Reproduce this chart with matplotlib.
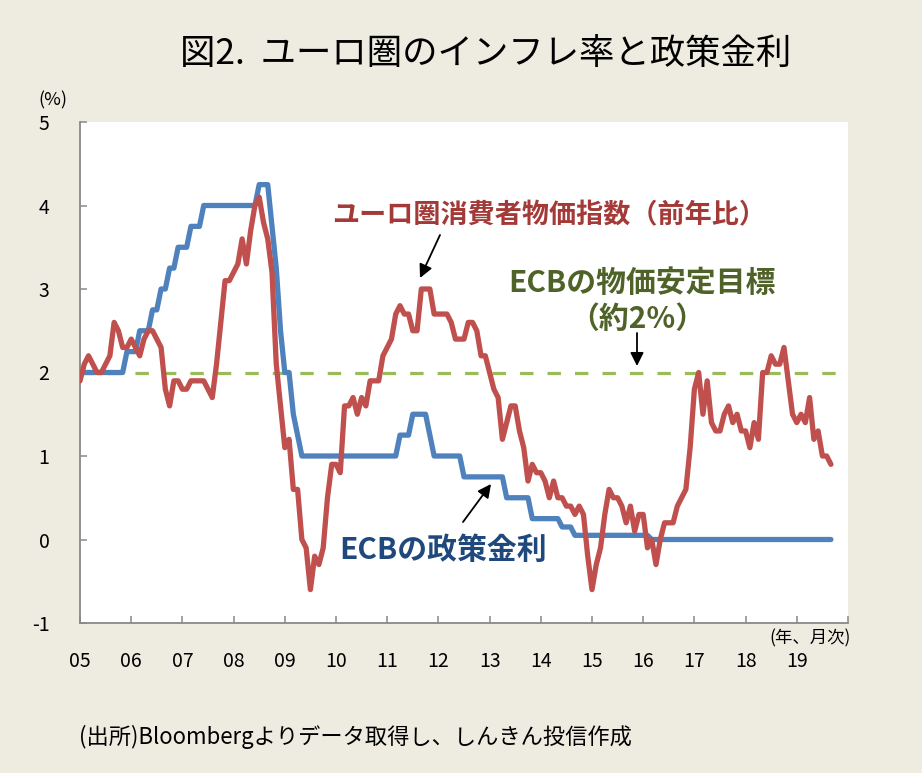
import matplotlib
matplotlib.use("Agg")
import matplotlib.pyplot as plt
import numpy as np

plt.rcParams['font.family'] = ['Noto Sans CJK JP', 'DejaVu Sans']
plt.rcParams['axes.unicode_minus'] = False

# ユーロ圏HICP 前年比(%)  2005年1月～2019年9月
cpi = [
    1.9, 2.1, 2.2, 2.1, 2.0, 2.0, 2.1, 2.2, 2.6, 2.5, 2.3, 2.3,   # 2005
    2.4, 2.3, 2.2, 2.4, 2.5, 2.5, 2.4, 2.3, 1.8, 1.6, 1.9, 1.9,   # 2006
    1.8, 1.8, 1.9, 1.9, 1.9, 1.9, 1.8, 1.7, 2.1, 2.6, 3.1, 3.1,   # 2007
    3.2, 3.3, 3.6, 3.3, 3.7, 4.0, 4.1, 3.8, 3.6, 3.2, 2.1, 1.6,   # 2008
    1.1, 1.2, 0.6, 0.6, 0.0, -0.1, -0.6, -0.2, -0.3, -0.1, 0.5, 0.9,  # 2009
    0.9, 0.8, 1.6, 1.6, 1.7, 1.5, 1.7, 1.6, 1.9, 1.9, 1.9, 2.2,   # 2010
    2.3, 2.4, 2.7, 2.8, 2.7, 2.7, 2.5, 2.5, 3.0, 3.0, 3.0, 2.7,   # 2011
    2.7, 2.7, 2.7, 2.6, 2.4, 2.4, 2.4, 2.6, 2.6, 2.5, 2.2, 2.2,   # 2012
    2.0, 1.8, 1.7, 1.2, 1.4, 1.6, 1.6, 1.3, 1.1, 0.7, 0.9, 0.8,   # 2013
    0.8, 0.7, 0.5, 0.7, 0.5, 0.5, 0.4, 0.4, 0.3, 0.4, 0.3, -0.2,  # 2014
    -0.6, -0.3, -0.1, 0.3, 0.6, 0.5, 0.5, 0.4, 0.2, 0.4, 0.1, 0.3,  # 2015
    0.3, -0.1, 0.0, -0.3, 0.0, 0.2, 0.2, 0.2, 0.4, 0.5, 0.6, 1.1,  # 2016
    1.8, 2.0, 1.5, 1.9, 1.4, 1.3, 1.3, 1.5, 1.6, 1.4, 1.5, 1.3,   # 2017
    1.3, 1.1, 1.4, 1.2, 2.0, 2.0, 2.2, 2.1, 2.1, 2.3, 1.9, 1.5,   # 2018
    1.4, 1.5, 1.4, 1.7, 1.2, 1.3, 1.0, 1.0, 0.9,                  # 2019
]

# ECB 主要リファイナンス金利(%) 月末値
ecb = [
    2.0, 2.0, 2.0, 2.0, 2.0, 2.0, 2.0, 2.0, 2.0, 2.0, 2.0, 2.25,
    2.25, 2.25, 2.5, 2.5, 2.5, 2.75, 2.75, 3.0, 3.0, 3.25, 3.25, 3.5,
    3.5, 3.5, 3.75, 3.75, 3.75, 4.0, 4.0, 4.0, 4.0, 4.0, 4.0, 4.0,
    4.0, 4.0, 4.0, 4.0, 4.0, 4.0, 4.25, 4.25, 4.25, 3.75, 3.25, 2.5,
    2.0, 2.0, 1.5, 1.25, 1.0, 1.0, 1.0, 1.0, 1.0, 1.0, 1.0, 1.0,
    1.0, 1.0, 1.0, 1.0, 1.0, 1.0, 1.0, 1.0, 1.0, 1.0, 1.0, 1.0,
    1.0, 1.0, 1.0, 1.25, 1.25, 1.25, 1.5, 1.5, 1.5, 1.5, 1.25, 1.0,
    1.0, 1.0, 1.0, 1.0, 1.0, 1.0, 0.75, 0.75, 0.75, 0.75, 0.75, 0.75,
    0.75, 0.75, 0.75, 0.75, 0.5, 0.5, 0.5, 0.5, 0.5, 0.5, 0.25, 0.25,
    0.25, 0.25, 0.25, 0.25, 0.25, 0.15, 0.15, 0.15, 0.05, 0.05, 0.05, 0.05,
    0.05, 0.05, 0.05, 0.05, 0.05, 0.05, 0.05, 0.05, 0.05, 0.05, 0.05, 0.05,
    0.05, 0.05, 0.0, 0.0, 0.0, 0.0, 0.0, 0.0, 0.0, 0.0, 0.0, 0.0,
    0.0, 0.0, 0.0, 0.0, 0.0, 0.0, 0.0, 0.0, 0.0, 0.0, 0.0, 0.0,
    0.0, 0.0, 0.0, 0.0, 0.0, 0.0, 0.0, 0.0, 0.0, 0.0, 0.0, 0.0,
    0.0, 0.0, 0.0, 0.0, 0.0, 0.0, 0.0, 0.0, 0.0,
]

target = 2.0
year_labels = ['05', '06', '07', '08', '09', '10', '11', '12', '13', '14',
               '15', '16', '17', '18', '19']

W, H = 922, 773
bg = '#EEECE1'
fig = plt.figure(figsize=(W / 100, H / 100), dpi=100, facecolor=bg)


def fp(x, y):
    # ピクセル位置 -> figure座標
    return x / W, 1 - y / H


ax = fig.add_axes([80 / W, 1 - 623 / H, (848 - 80) / W, (623 - 122) / H])
ax.set_facecolor('white')

months = np.arange(len(cpi))
ax.axhline(target, color='#9BBB59', lw=2.3, dashes=(4.2, 4.4), zorder=1)
ax.plot(np.arange(len(ecb)), ecb, color='#4F81BD', lw=3.8, zorder=2,
        solid_joinstyle='round', solid_capstyle='round')
ax.plot(months, cpi, color='#C0504D', lw=3.8, zorder=3,
        solid_joinstyle='round', solid_capstyle='round')

n_years = len(year_labels)
ax.set_xlim(0, 12 * n_years)
ax.set_ylim(-1, 5)
ax.set_yticks(range(-1, 6))
ax.set_xticks(np.arange(0, 12 * n_years + 1, 12))
ax.set_xticklabels(year_labels + [''])

for s in ['top', 'right']:
    ax.spines[s].set_visible(False)
for s in ['left', 'bottom']:
    ax.spines[s].set_color('#898989')
    ax.spines[s].set_linewidth(1.3)
ax.tick_params(axis='both', direction='in', length=5, width=1.1,
               color='#898989', labelsize=14, labelcolor='black')
ax.tick_params(axis='y', pad=22)
ax.tick_params(axis='x', pad=20)

# タイトル・注記
fig.text(*fp(486, 55), '図2.  ユーロ圏のインフレ率と政策金利', fontsize=25.5,
         ha='center', va='center', color='black')
fig.text(*fp(53, 100), '(%)', fontsize=13, ha='center', va='center')
fig.text(*fp(851, 638), '(年、月次)', fontsize=12.5, ha='right', va='center')
fig.text(*fp(79, 737), '(出所)Bloombergよりデータ取得し、しんきん投信作成',
         fontsize=16, ha='left', va='center')

# 系列ラベル
fig.text(*fp(549, 215), 'ユーロ圏消費者物価指数（前年比）', fontsize=19.5,
         fontweight='bold', color='#A33A38', ha='center', va='center')
fig.text(*fp(642, 283), 'ECBの物価安定目標', fontsize=21.5,
         fontweight='bold', color='#4F6228', ha='center', va='center')
fig.text(*fp(637, 319), '（約2%）', fontsize=21.5,
         fontweight='bold', color='#4F6228', ha='center', va='center')
fig.text(*fp(443, 550), 'ECBの政策金利', fontsize=21.5,
         fontweight='bold', color='#1F497D', ha='center', va='center')

arrow = dict(arrowstyle='-|>', color='black', lw=1.3, mutation_scale=20,
             shrinkA=0, shrinkB=0)
for (x0, y0), (x1, y1) in [((440, 235), (420, 278)),
                           ((637, 333), (637, 366)),
                           ((463, 522), (491, 484))]:
    fig.add_artist(matplotlib.patches.FancyArrowPatch(
        fp(x0, y0), fp(x1, y1), transform=fig.transFigure, **arrow))

fig.savefig('out.png', dpi=100, facecolor=bg)
